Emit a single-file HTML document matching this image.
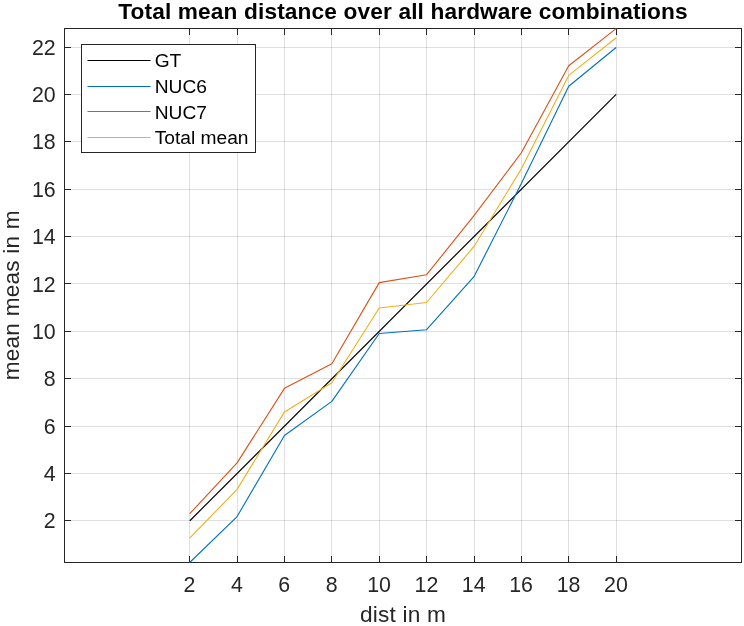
<!DOCTYPE html>
<html><head><meta charset="utf-8"><title>Total mean distance over all hardware combinations</title>
<style>
html,body{margin:0;padding:0;background:#fff;}
body{width:744px;height:626px;overflow:hidden;}
svg{display:block;font-family:"Liberation Sans",Arial,Helvetica,sans-serif;}
.tick{font-size:21.33px;fill:#262626;}
.lab{font-size:22.67px;fill:#262626;letter-spacing:0.2px;}
.title{font-size:22.67px;font-weight:bold;fill:#000;letter-spacing:0.143px;}
.leg{font-size:19.2px;fill:#000;}
</style></head><body>
<svg width="744" height="626" viewBox="0 0 744 626">
<rect x="0" y="0" width="744" height="626" fill="#fff"/>
<g stroke="#262626" stroke-opacity="0.15" stroke-width="1" shape-rendering="crispEdges"><line x1="189.5" y1="28.5" x2="189.5" y2="562.5"/><line x1="237.5" y1="28.5" x2="237.5" y2="562.5"/><line x1="284.5" y1="28.5" x2="284.5" y2="562.5"/><line x1="331.5" y1="28.5" x2="331.5" y2="562.5"/><line x1="379.5" y1="28.5" x2="379.5" y2="562.5"/><line x1="426.5" y1="28.5" x2="426.5" y2="562.5"/><line x1="474.5" y1="28.5" x2="474.5" y2="562.5"/><line x1="521.5" y1="28.5" x2="521.5" y2="562.5"/><line x1="568.5" y1="28.5" x2="568.5" y2="562.5"/><line x1="616.5" y1="28.5" x2="616.5" y2="562.5"/><line x1="64.5" y1="520.5" x2="741.5" y2="520.5"/><line x1="64.5" y1="473.5" x2="741.5" y2="473.5"/><line x1="64.5" y1="426.5" x2="741.5" y2="426.5"/><line x1="64.5" y1="378.5" x2="741.5" y2="378.5"/><line x1="64.5" y1="331.5" x2="741.5" y2="331.5"/><line x1="64.5" y1="283.5" x2="741.5" y2="283.5"/><line x1="64.5" y1="236.5" x2="741.5" y2="236.5"/><line x1="64.5" y1="189.5" x2="741.5" y2="189.5"/><line x1="64.5" y1="141.5" x2="741.5" y2="141.5"/><line x1="64.5" y1="94.5" x2="741.5" y2="94.5"/><line x1="64.5" y1="47.5" x2="741.5" y2="47.5"/></g>
<g stroke="#262626" stroke-width="1" shape-rendering="crispEdges" fill="none"><rect x="64.5" y="28.5" width="677.0" height="534.0"/><line x1="189.5" y1="562.5" x2="189.5" y2="556.0"/><line x1="189.5" y1="28.5" x2="189.5" y2="35.0"/><line x1="237.5" y1="562.5" x2="237.5" y2="556.0"/><line x1="237.5" y1="28.5" x2="237.5" y2="35.0"/><line x1="284.5" y1="562.5" x2="284.5" y2="556.0"/><line x1="284.5" y1="28.5" x2="284.5" y2="35.0"/><line x1="331.5" y1="562.5" x2="331.5" y2="556.0"/><line x1="331.5" y1="28.5" x2="331.5" y2="35.0"/><line x1="379.5" y1="562.5" x2="379.5" y2="556.0"/><line x1="379.5" y1="28.5" x2="379.5" y2="35.0"/><line x1="426.5" y1="562.5" x2="426.5" y2="556.0"/><line x1="426.5" y1="28.5" x2="426.5" y2="35.0"/><line x1="474.5" y1="562.5" x2="474.5" y2="556.0"/><line x1="474.5" y1="28.5" x2="474.5" y2="35.0"/><line x1="521.5" y1="562.5" x2="521.5" y2="556.0"/><line x1="521.5" y1="28.5" x2="521.5" y2="35.0"/><line x1="568.5" y1="562.5" x2="568.5" y2="556.0"/><line x1="568.5" y1="28.5" x2="568.5" y2="35.0"/><line x1="616.5" y1="562.5" x2="616.5" y2="556.0"/><line x1="616.5" y1="28.5" x2="616.5" y2="35.0"/><line x1="64.5" y1="520.5" x2="71.0" y2="520.5"/><line x1="741.5" y1="520.5" x2="735.0" y2="520.5"/><line x1="64.5" y1="473.5" x2="71.0" y2="473.5"/><line x1="741.5" y1="473.5" x2="735.0" y2="473.5"/><line x1="64.5" y1="426.5" x2="71.0" y2="426.5"/><line x1="741.5" y1="426.5" x2="735.0" y2="426.5"/><line x1="64.5" y1="378.5" x2="71.0" y2="378.5"/><line x1="741.5" y1="378.5" x2="735.0" y2="378.5"/><line x1="64.5" y1="331.5" x2="71.0" y2="331.5"/><line x1="741.5" y1="331.5" x2="735.0" y2="331.5"/><line x1="64.5" y1="283.5" x2="71.0" y2="283.5"/><line x1="741.5" y1="283.5" x2="735.0" y2="283.5"/><line x1="64.5" y1="236.5" x2="71.0" y2="236.5"/><line x1="741.5" y1="236.5" x2="735.0" y2="236.5"/><line x1="64.5" y1="189.5" x2="71.0" y2="189.5"/><line x1="741.5" y1="189.5" x2="735.0" y2="189.5"/><line x1="64.5" y1="141.5" x2="71.0" y2="141.5"/><line x1="741.5" y1="141.5" x2="735.0" y2="141.5"/><line x1="64.5" y1="94.5" x2="71.0" y2="94.5"/><line x1="741.5" y1="94.5" x2="735.0" y2="94.5"/><line x1="64.5" y1="47.5" x2="71.0" y2="47.5"/><line x1="741.5" y1="47.5" x2="735.0" y2="47.5"/></g>
<g>
<line x1="189.83" y1="520.78" x2="616.16" y2="94.45" stroke="#000" stroke-width="1.2"/>
<polyline points="189.70,562.49 237.08,516.58 284.46,435.44 331.84,401.38 379.22,333.49 426.60,329.70 473.98,276.72 521.36,183.52 568.74,86.29 616.12,47.50" fill="none" stroke="#0072BD" stroke-width="1.12" stroke-linejoin="round"/>
<polyline points="189.70,513.74 237.08,462.88 284.46,388.37 331.84,363.77 379.22,282.63 426.60,274.71 473.98,215.69 521.36,152.76 568.74,65.71 616.12,28.58" fill="none" stroke="#D95319" stroke-width="1.12" stroke-linejoin="round"/>
<polyline points="189.70,538.20 237.08,489.38 284.46,411.91 331.84,382.81 379.22,307.94 426.60,302.50 473.98,246.44 521.36,168.85 568.74,75.41 616.12,37.80" fill="none" stroke="#EDB120" stroke-width="1.12" stroke-linejoin="round"/>
</g>
<text class="tick" x="189.5" y="591.5" text-anchor="middle">2</text><text class="tick" x="236.9" y="591.5" text-anchor="middle">4</text><text class="tick" x="284.3" y="591.5" text-anchor="middle">6</text><text class="tick" x="331.6" y="591.5" text-anchor="middle">8</text><text class="tick" x="379.0" y="591.5" text-anchor="middle">10</text><text class="tick" x="426.4" y="591.5" text-anchor="middle">12</text><text class="tick" x="473.7" y="591.5" text-anchor="middle">14</text><text class="tick" x="521.1" y="591.5" text-anchor="middle">16</text><text class="tick" x="568.5" y="591.5" text-anchor="middle">18</text><text class="tick" x="615.9" y="591.5" text-anchor="middle">20</text><text class="tick" x="55.7" y="528.4" text-anchor="end">2</text><text class="tick" x="55.7" y="481.0" text-anchor="end">4</text><text class="tick" x="55.7" y="433.6" text-anchor="end">6</text><text class="tick" x="55.7" y="386.3" text-anchor="end">8</text><text class="tick" x="55.7" y="338.9" text-anchor="end">10</text><text class="tick" x="55.7" y="291.5" text-anchor="end">12</text><text class="tick" x="55.7" y="244.2" text-anchor="end">14</text><text class="tick" x="55.7" y="196.8" text-anchor="end">16</text><text class="tick" x="55.7" y="149.4" text-anchor="end">18</text><text class="tick" x="55.7" y="102.0" text-anchor="end">20</text><text class="tick" x="55.7" y="54.7" text-anchor="end">22</text>
<text class="lab" x="403" y="622.4" text-anchor="middle">dist in m</text>
<text class="lab" transform="translate(19.0,295.2) rotate(-90)" text-anchor="middle">mean meas in m</text>
<text class="title" x="403" y="18.5" text-anchor="middle">Total mean distance over all hardware combinations</text>
<rect x="81.5" y="44.5" width="174" height="108" fill="#fff" stroke="#262626" stroke-width="1" shape-rendering="crispEdges"/>
<line x1="87.5" y1="60.5" x2="150.5" y2="60.5" stroke="#000000" stroke-width="1.12"/>
<text class="leg" x="154.7" y="67.0">GT</text>
<line x1="87.5" y1="86.5" x2="150.5" y2="86.5" stroke="#0072BD" stroke-width="1.12"/>
<text class="leg" x="154.7" y="92.6">NUC6</text>
<line x1="87.5" y1="111.5" x2="150.5" y2="111.5" stroke="#D95319" stroke-width="1.12"/>
<text class="leg" x="154.7" y="118.7">NUC7</text>
<line x1="87.5" y1="137.5" x2="150.5" y2="137.5" stroke="#EDB120" stroke-width="1.12"/>
<text class="leg" x="154.7" y="143.5">Total mean</text>
</svg></body></html>
